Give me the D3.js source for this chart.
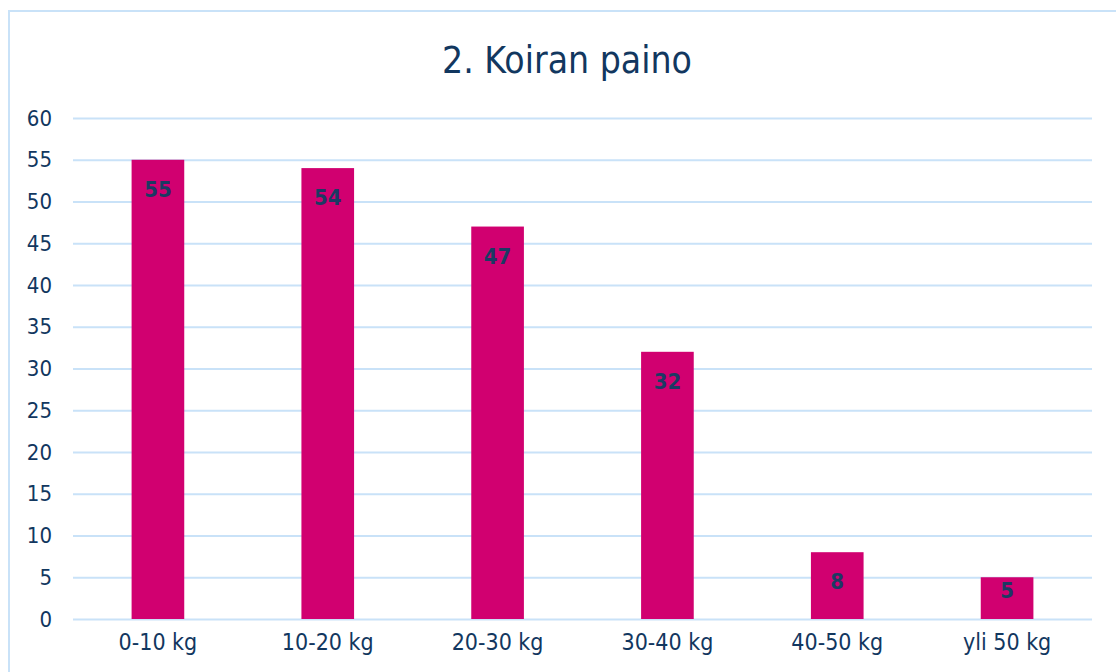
<!DOCTYPE html>
<html>
<head>
<meta charset="utf-8">
<script src="https://cdn.jsdelivr.net/npm/d3@7"></script>
<style>
  body { margin: 0; background: #fff; }
  text { font-family: "DejaVu Sans Condensed", "DejaVu Sans", sans-serif; }
</style>
</head>
<body>
<script>
// Data
const categories = ['0-10 kg', '10-20 kg', '20-30 kg', '30-40 kg', '40-50 kg', 'yli 50 kg'];
const values = [55, 54, 47, 32, 8, 5];
const yTicks = [0, 5, 10, 15, 20, 25, 30, 35, 40, 45, 50, 55, 60];
const title = '2. Koiran paino';

let width = 1116,
  height = 672;

let margin = { top: 118, bottom: 53, left: 73, right: 24 };

const textColor = '#12375f';

let svg = d3.select('body')
  .append('svg')
    .attr('width', width)
    .attr('height', height);

// outer frame
svg.append('rect')
  .attr('x', 9)
  .attr('y', 11)
  .attr('width', width + 20)
  .attr('height', height + 20)
  .attr('fill', 'none')
  .attr('stroke', '#c9e2f8')
  .attr('stroke-width', 2);

// Scales
let yScale = d3.scaleLinear()
  .domain([0, 60])
  .range([height - margin.bottom, margin.top]);

let xScale = d3.scaleBand()
  .domain(categories)
  .range([margin.left, width - margin.right])
  .paddingInner(0.69)
  .paddingOuter(0.345);

// Gridlines + y labels
let yAxis = svg.append('g')
  .attr('transform', `translate(${margin.left},0)`)
  .call(d3.axisLeft(yScale)
    .tickValues(yTicks)
    .tickSize(-(width - margin.left - margin.right))
    .tickPadding(21));

yAxis.select('.domain').remove();
yAxis.selectAll('.tick line')
  .attr('stroke', '#c9e2f8')
  .attr('stroke-width', 2);
yAxis.selectAll('.tick text')
  .attr('fill', textColor)
  .style('font-size', '22px')
  .style('font-family', '"DejaVu Sans Condensed", sans-serif');

// x labels
let xAxis = svg.append('g')
  .attr('transform', `translate(0,${height - margin.bottom})`)
  .call(d3.axisBottom(xScale).tickSize(0).tickPadding(15));

xAxis.select('.domain').remove();
xAxis.selectAll('.tick text')
  .attr('fill', textColor)
  .style('font-size', '23px')
  .style('font-family', '"DejaVu Sans Condensed", sans-serif');

// Bars
svg.selectAll('rect.bar')
  .data(values)
  .enter()
  .append('rect')
    .attr('class', 'bar')
    .attr('x', (d, i) => xScale(categories[i]))
    .attr('y', d => yScale(d))
    .attr('width', xScale.bandwidth())
    .attr('height', d => yScale(0) - yScale(d))
    .attr('fill', '#d10070');

// Value labels (inside end, kept within short bars)
svg.selectAll('text.val')
  .data(values)
  .enter()
  .append('text')
    .attr('class', 'val')
    .attr('x', (d, i) => xScale(categories[i]) + xScale.bandwidth() / 2)
    .attr('y', d => Math.min(yScale(d) + 37, yScale(0) - 21))
    .attr('text-anchor', 'middle')
    .attr('fill', '#1b3a63')
    .style('font-size', '22px')
    .style('font-weight', 'bold')
    .text(d => d);

// Title
svg.append('text')
  .attr('x', 567)
  .attr('y', 73)
  .attr('text-anchor', 'middle')
  .attr('fill', textColor)
  .style('font-size', '37px')
  .text(title);
</script>
</body>
</html>
